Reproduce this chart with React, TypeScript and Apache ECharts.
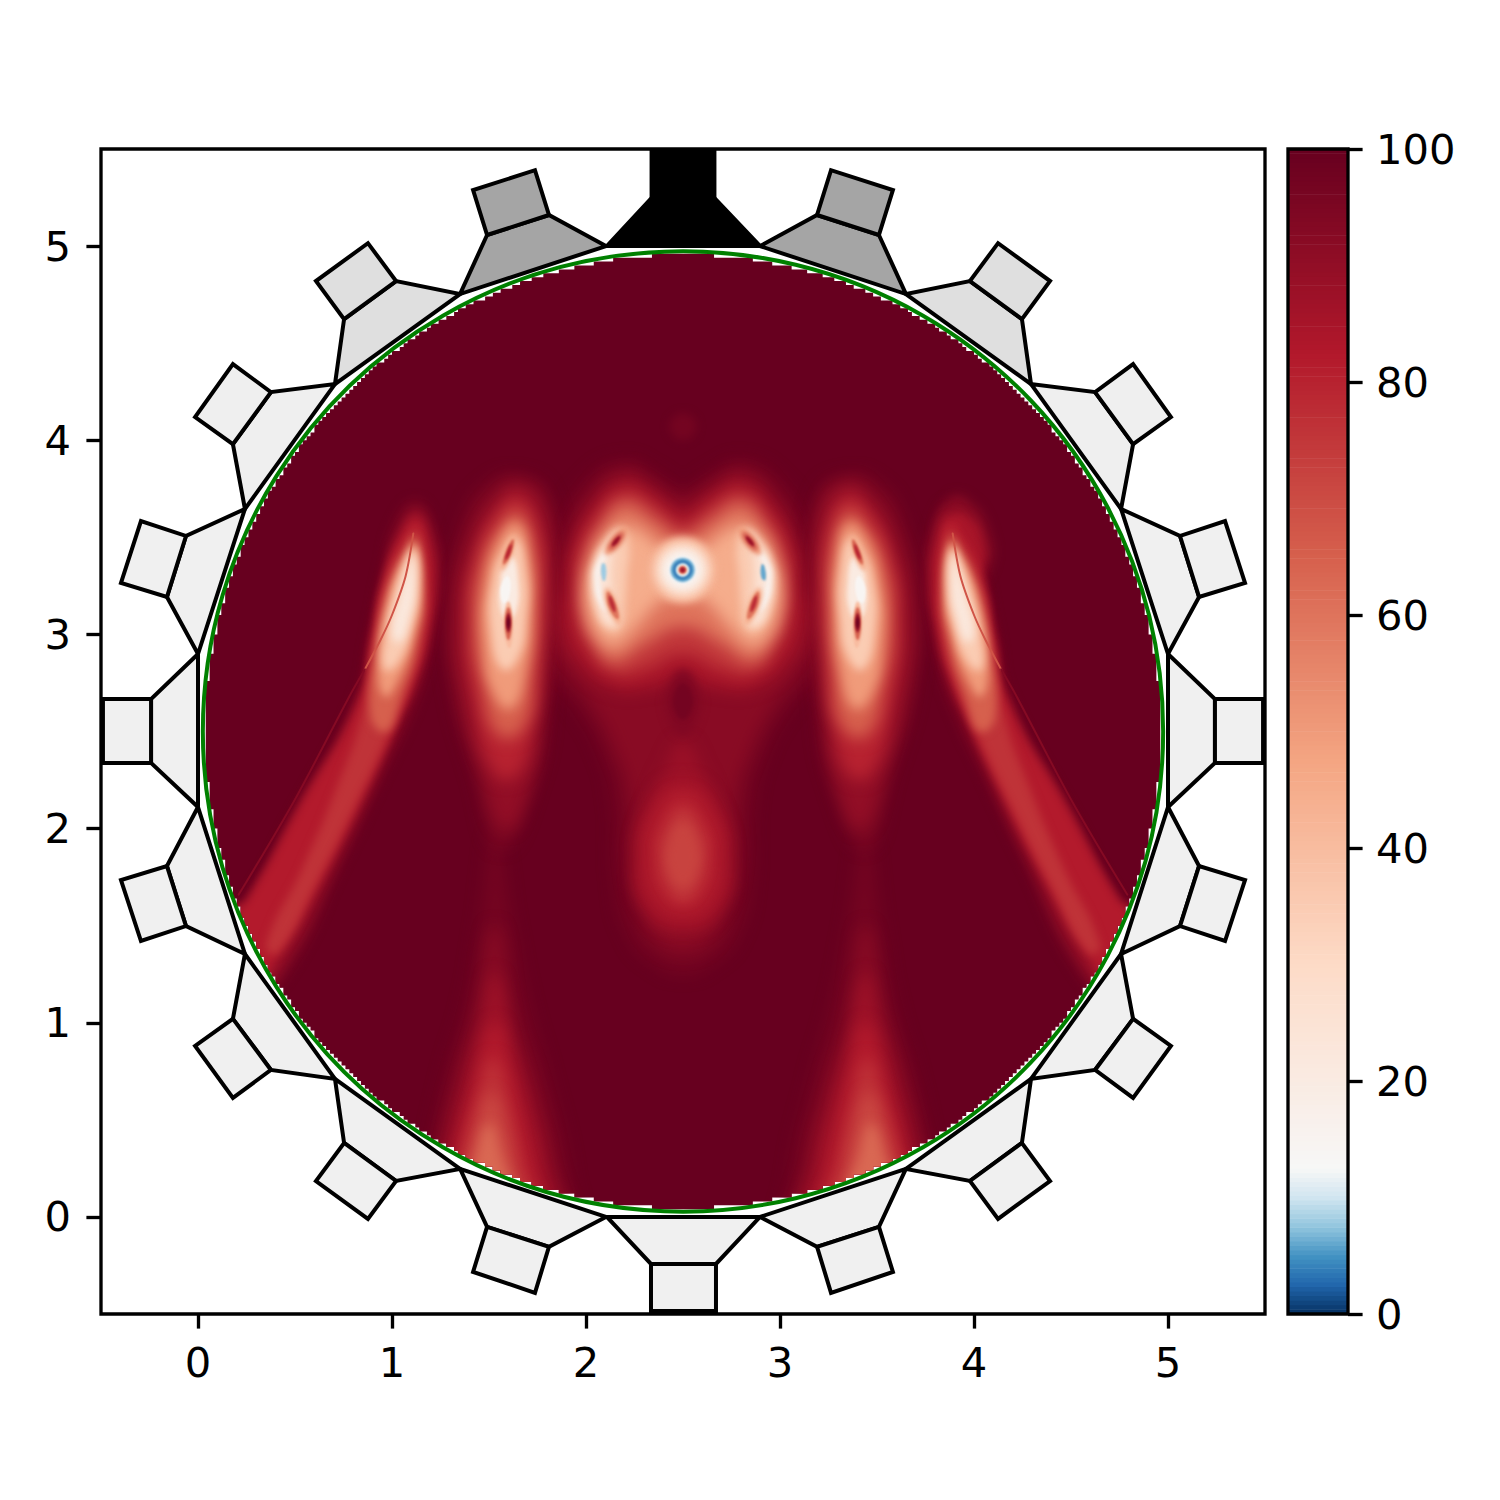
import React, { useEffect, useRef } from "react";
import * as echarts from "echarts";

type Pt = [number, number];
type Contour = [number, Pt[]];

const xTicks = [0, 1, 2, 3, 4, 5];
const yTicks = [0, 1, 2, 3, 4, 5];
const barTicks = [0, 20, 40, 60, 80, 100];
const xRange: Pt = [-0.5, 5.5];
const yRange: Pt = [-0.5, 5.5];

const cmapStops: [number, string][] = [
  [0, "#053061"], [2.5, "#2166ac"], [5, "#4393c3"], [7.5, "#92c5de"], [10, "#d1e5f0"], [12.5, "#f7f7f7"],
  [30, "#fddbc7"], [47.5, "#f4a582"], [65, "#d6604d"], [82.5, "#b2182b"], [100, "#67001f"],
];

// Ports of the vessel, right half (data coordinates): [fill, trapezoid, square]
const portsRight: [string, Pt[], Pt[]][] = [
  ["#a5a5a5", [[2.897, 5], [3.649, 4.753], [3.51, 5.057], [3.191, 5.16]], [[3.191, 5.16], [3.51, 5.057], [3.582, 5.288], [3.263, 5.391]]],
  ["#dfdfdf", [[3.649, 4.753], [4.294, 4.289], [4.247, 4.624], [3.979, 4.82]], [[3.979, 4.82], [4.247, 4.624], [4.392, 4.82], [4.124, 5.015]]],
  ["#efefef", [[4.294, 4.289], [4.758, 3.646], [4.82, 3.98], [4.624, 4.248]], [[4.624, 4.248], [4.82, 3.98], [5.015, 4.119], [4.82, 4.392]]],
  ["#f0f0f0", [[4.758, 3.646], [5, 2.899], [5.16, 3.193], [5.062, 3.507]], [[5.062, 3.507], [5.16, 3.193], [5.397, 3.265], [5.294, 3.584]]],
  ["#f0f0f0", [[5, 2.899], [5, 2.111], [5.242, 2.338], [5.242, 2.667]], [[5.242, 2.667], [5.242, 2.338], [5.49, 2.338], [5.49, 2.667]]],
  ["#f0f0f0", [[5, 2.111], [4.758, 1.354], [5.062, 1.498], [5.16, 1.807]], [[5.16, 1.807], [5.062, 1.498], [5.294, 1.421], [5.397, 1.735]]],
  ["#f0f0f0", [[4.758, 1.354], [4.294, 0.711], [4.624, 0.757], [4.82, 1.02]], [[4.82, 1.02], [4.624, 0.757], [4.82, 0.613], [5.015, 0.881]]],
  ["#f0f0f0", [[4.294, 0.711], [3.649, 0.247], [3.979, 0.185], [4.247, 0.381]], [[4.247, 0.381], [3.979, 0.185], [4.124, -0.01], [4.392, 0.185]]],
  ["#f0f0f0", [[3.649, 0.247], [2.897, 0], [3.191, -0.154], [3.51, -0.051]], [[3.51, -0.051], [3.191, -0.154], [3.263, -0.391], [3.582, -0.283]]],
];
const portBottom: [string, Pt[], Pt[]] = ["#f0f0f0", [[2.108, 0], [2.897, 0], [2.67, -0.242], [2.335, -0.242]], [[2.335, -0.242], [2.67, -0.242], [2.67, -0.484], [2.335, -0.484]]];
const portTop: [string, Pt[], Pt[]] = ["#000000", [[2.108, 5], [2.897, 5], [2.662, 5.247], [2.338, 5.247]], [[2.338, 5.247], [2.662, 5.247], [2.662, 5.6], [2.338, 5.6]]];

// Field
const tailLobeLeft: Contour[] = [
  [97, [[1.13, 3.7], [1.23, 3.57], [1.27, 3.35], [1.25, 3.1], [1.2, 2.85], [1.12, 2.6], [0.97, 2.28], [0.77, 1.85], [0.47, 1.24], [0.3, 1.15], [0.15, 1.6], [0.22, 1.62], [0.5, 2.12], [0.8, 2.68], [0.87, 3.0], [0.93, 3.3], [1.01, 3.6]]],
  [90, [[1.13, 3.65], [1.21, 3.52], [1.24, 3.3], [1.21, 3.05], [1.15, 2.8], [1.06, 2.58], [0.93, 2.28], [0.73, 1.85], [0.43, 1.26], [0.3, 1.18], [0.18, 1.6], [0.24, 1.62], [0.52, 2.12], [0.82, 2.66], [0.89, 2.98], [0.95, 3.28], [1.04, 3.56]]],
  [82, [[1.13, 3.6], [1.19, 3.46], [1.21, 3.25], [1.18, 3.0], [1.11, 2.75], [1.02, 2.54], [0.89, 2.26], [0.69, 1.85], [0.39, 1.3], [0.3, 1.2], [0.2, 1.58], [0.25, 1.62], [0.53, 2.12], [0.83, 2.66], [0.9, 2.97], [0.96, 3.28], [1.05, 3.52]]],
  [76, [[1.13, 3.54], [1.17, 3.32], [1.16, 3.0], [1.08, 2.72], [0.97, 2.46], [0.81, 2.12], [0.61, 1.72], [0.41, 1.36], [0.35, 1.4], [0.54, 1.8], [0.71, 2.2], [0.85, 2.6], [0.91, 2.98], [0.97, 3.28], [1.07, 3.48]]],
  [65, [[1.12, 3.5], [1.16, 3.25], [1.13, 2.95], [1.04, 2.66], [0.97, 2.5], [0.89, 2.58], [0.93, 2.98], [0.99, 3.25], [1.08, 3.45]]],
  [50, [[1.12, 3.47], [1.15, 3.22], [1.11, 2.98], [1.03, 2.76], [0.96, 2.68], [0.93, 2.88], [0.98, 3.18], [1.03, 3.32], [1.09, 3.43]]],
  [35, [[1.115, 3.45], [1.135, 3.25], [1.1, 3.03], [1.03, 2.85], [0.96, 2.82], [0.97, 3.02], [1.02, 3.24], [1.08, 3.4]]],
  [22, [[1.105, 3.42], [1.12, 3.25], [1.09, 3.08], [1.04, 2.96], [1.0, 3.0], [1.04, 3.2], [1.08, 3.34]]],
];
const shoulderRight: Contour[] = [
  [92, [[3.88, 3.7], [3.98, 3.68], [4.07, 3.54], [4.08, 3.35], [3.95, 3.22], [3.82, 3.45]]],
  [85, [[3.9, 3.62], [3.98, 3.6], [4.04, 3.5], [4.04, 3.35], [3.95, 3.28], [3.86, 3.45]]],
];
const middleLobeLeft: Contour[] = [
  [95, [[1.66, 3.82], [1.81, 3.72], [1.85, 3.38], [1.83, 3.0], [1.81, 2.66], [1.74, 2.25], [1.56, 1.9], [1.42, 2.3], [1.3, 2.76], [1.28, 3.18], [1.37, 3.6], [1.5, 3.78]]],
  [90, [[1.67, 3.78], [1.79, 3.64], [1.82, 3.3], [1.8, 2.95], [1.77, 2.6], [1.7, 2.2], [1.58, 2.0], [1.46, 2.3], [1.35, 2.7], [1.32, 3.1], [1.4, 3.48], [1.55, 3.73]]],
  [80, [[1.66, 3.72], [1.76, 3.55], [1.79, 3.25], [1.77, 2.9], [1.73, 2.55], [1.65, 2.28], [1.53, 2.28], [1.42, 2.65], [1.38, 3.05], [1.43, 3.42], [1.56, 3.67]]],
  [65, [[1.65, 3.64], [1.73, 3.46], [1.75, 3.15], [1.73, 2.8], [1.68, 2.52], [1.55, 2.48], [1.46, 2.75], [1.42, 3.05], [1.46, 3.38], [1.57, 3.58]]],
  [50, [[1.65, 3.57], [1.71, 3.38], [1.72, 3.1], [1.69, 2.82], [1.62, 2.62], [1.53, 2.68], [1.47, 2.95], [1.48, 3.25], [1.56, 3.5]]],
  [35, [[1.64, 3.5], [1.69, 3.32], [1.69, 3.08], [1.65, 2.88], [1.57, 2.82], [1.51, 3.02], [1.52, 3.28], [1.58, 3.44]]],
  [20, [[1.62, 3.4], [1.65, 3.27], [1.64, 3.12], [1.6, 3.08], [1.56, 3.13], [1.56, 3.27], [1.58, 3.35]]],
  [14, [[1.6, 3.3], [1.61, 3.22], [1.58, 3.16], [1.56, 3.2], [1.57, 3.27]]],
];
const crownHalves: Contour[] = [
  [97, [[2.5, 3.76], [2.35, 3.84], [2.2, 3.9], [2.0, 3.8], [1.85, 3.55], [1.78, 3.28], [1.74, 3.0], [1.8, 2.78], [1.93, 2.64], [2.07, 2.4], [2.14, 2.1], [2.15, 1.75], [2.22, 1.45], [2.36, 1.3], [2.5, 1.25]]],
  [92, [[2.5, 3.7], [2.35, 3.78], [2.2, 3.85], [2.02, 3.72], [1.9, 3.48], [1.84, 3.25], [1.8, 3.0], [1.9, 2.8], [2.02, 2.65], [2.15, 2.4], [2.22, 2.15], [2.22, 1.85], [2.27, 1.6], [2.36, 1.42], [2.5, 1.36]]],
  [88, [[2.5, 2.45], [2.4, 2.3], [2.32, 2.1], [2.26, 1.85], [2.3, 1.6], [2.5, 1.47]]],
  [85, [[2.5, 3.63], [2.35, 3.72], [2.2, 3.79], [2.04, 3.66], [1.93, 3.44], [1.9, 3.25], [1.88, 3.05], [1.97, 2.85], [2.15, 2.72], [2.3, 2.72], [2.5, 2.76]]],
  [75, [[2.5, 3.56], [2.35, 3.66], [2.2, 3.73], [2.06, 3.6], [1.97, 3.42], [1.96, 3.25], [1.97, 3.08], [2.02, 2.93], [2.15, 2.8], [2.3, 2.82], [2.5, 2.9]]],
  [60, [[2.5, 3.5], [2.36, 3.58], [2.2, 3.67], [2.08, 3.55], [2.0, 3.38], [1.98, 3.25], [1.99, 3.08], [2.04, 2.97], [2.14, 2.86], [2.3, 2.95], [2.5, 3.04]]],
  [45, [[2.5, 3.42], [2.38, 3.46], [2.22, 3.56], [2.1, 3.5], [2.03, 3.36], [2.0, 3.25], [2.01, 3.12], [2.06, 3.0], [2.14, 2.94], [2.26, 3.04], [2.38, 3.17], [2.5, 3.2]]],
];
const lowerBlobHalves: Contour[] = [
  [85, [[2.5, 2.25], [2.32, 2.1], [2.27, 1.85], [2.32, 1.6], [2.5, 1.5]]],
  [80, [[2.5, 2.18], [2.37, 2.05], [2.33, 1.85], [2.38, 1.65], [2.5, 1.58]]],
  [75, [[2.5, 2.1], [2.4, 1.98], [2.38, 1.85], [2.42, 1.7], [2.5, 1.63]]],
  [72, [[2.5, 2.03], [2.43, 1.93], [2.43, 1.78], [2.5, 1.7]]],
];
const crownSideLeft: Contour[] = [
  [35, [[2.18, 3.55], [2.22, 3.46], [2.21, 3.3], [2.2, 3.15], [2.18, 3.04], [2.12, 3.02], [2.06, 3.1], [2.03, 3.25], [2.05, 3.38], [2.11, 3.49]]],
  [25, [[2.16, 3.52], [2.14, 3.42], [2.13, 3.3], [2.14, 3.18], [2.16, 3.06], [2.1, 3.06], [2.06, 3.15], [2.035, 3.27], [2.05, 3.38], [2.1, 3.46]]],
  [16, [[2.12, 3.44], [2.08, 3.34], [2.08, 3.22], [2.11, 3.12], [2.07, 3.16], [2.045, 3.27], [2.06, 3.37]]],
];
const footBlob: Contour[] = [
  [97, [[1.53, 1.98], [1.62, 1.5], [1.7, 1.1], [1.81, 0.7], [1.92, 0.2], [1.92, -0.1], [1.1, -0.1], [1.18, 0.3], [1.28, 0.75], [1.38, 1.1], [1.45, 1.5]]],
  [92, [[1.53, 1.5], [1.63, 1.0], [1.73, 0.7], [1.83, 0.3], [1.87, -0.1], [1.16, -0.1], [1.24, 0.35], [1.34, 0.75], [1.43, 1.05]]],
  [87, [[1.53, 1.25], [1.62, 0.88], [1.7, 0.6], [1.78, 0.3], [1.82, -0.1], [1.21, -0.1], [1.28, 0.3], [1.38, 0.7], [1.46, 0.98]]],
  [82, [[1.53, 1.0], [1.62, 0.72], [1.68, 0.48], [1.74, 0.2], [1.78, -0.1], [1.25, -0.1], [1.33, 0.3], [1.41, 0.62]]],
  [76, [[1.52, 0.82], [1.6, 0.58], [1.66, 0.3], [1.72, 0.02], [1.3, 0.02], [1.37, 0.35], [1.44, 0.6]]],
  [70, [[1.51, 0.64], [1.58, 0.44], [1.63, 0.2], [1.66, 0.02], [1.34, 0.02], [1.4, 0.3], [1.45, 0.48]]],
  [63, [[1.5, 0.48], [1.56, 0.32], [1.6, 0.12], [1.4, 0.12], [1.43, 0.3]]],
];
const upperFaint: Contour[] = [
  [97, [[2.5, 4.14], [2.57, 4.07], [2.5, 4.0], [2.43, 4.07]]],
];
// Overlays painted above the contours: dark spots and the dimple
const dimple: Contour[] = [
  [94, [[2.5, 2.82], [2.58, 2.72], [2.58, 2.58], [2.5, 2.48], [2.42, 2.58], [2.42, 2.72]]],
  [97, [[2.5, 2.75], [2.55, 2.68], [2.54, 2.6], [2.5, 2.56], [2.46, 2.6], [2.45, 2.68]]],
];
const crownSpotsLeft: Contour[] = [
  [50, [[2.21, 3.55], [2.18, 3.46], [2.1, 3.41], [2.13, 3.5]]],
  [70, [[2.19, 3.525], [2.17, 3.47], [2.12, 3.435], [2.14, 3.49]]],
  [88, [[2.175, 3.505], [2.163, 3.473], [2.135, 3.455], [2.147, 3.487]]],
  [45, [[2.105, 3.24], [2.163, 3.16], [2.175, 3.05], [2.107, 3.14]]],
  [60, [[2.112, 3.22], [2.154, 3.157], [2.165, 3.08], [2.116, 3.143]]],
  [78, [[2.12, 3.2], [2.144, 3.163], [2.15, 3.115], [2.126, 3.147]]],
];
const middleSpotsLeft: Contour[] = [
  [45, [[1.63, 3.51], [1.62, 3.41], [1.565, 3.33], [1.575, 3.43]]],
  [65, [[1.625, 3.49], [1.614, 3.415], [1.575, 3.36], [1.586, 3.425]]],
  [82, [[1.615, 3.465], [1.607, 3.417], [1.585, 3.385], [1.593, 3.423]]],
  [40, [[1.6, 3.17], [1.625, 3.05], [1.605, 2.93], [1.575, 3.05]]],
  [65, [[1.6, 3.14], [1.618, 3.06], [1.6, 2.97], [1.582, 3.06]]],
  [90, [[1.6, 3.11], [1.612, 3.06], [1.6, 3.01], [1.588, 3.06]]],
  [100, [[1.6, 3.09], [1.607, 3.06], [1.6, 3.03], [1.593, 3.06]]],
];
const bluePatches: Contour[] = [
  [8, [[2.08, 3.36], [2.1, 3.36], [2.1, 3.28], [2.085, 3.28]]],
  [6, [[2.905, 3.36], [2.92, 3.35], [2.925, 3.28], [2.905, 3.29]]],
];
// Concentric bands of the central point: [radius, value]
const centreRadii = [0.17, 0.15, 0.13, 0.112, 0.095, 0.08, 0.07, 0.062, 0.048, 0.037, 0.03, 0.023, 0.017, 0.01];
const centreValues = [42, 36, 30, 24, 18, 14, 12, 6, 3, 8, 14, 45, 75, 88];
const centrePoint: Pt = [2.498, 3.332];
// Thin streaks beside the tails: [value, polyline]
const streaksLeft: [number, Pt[]][] = [
  [68, [[1.11, 3.52], [1.07, 3.3], [1.0, 3.1], [0.94, 2.97], [0.86, 2.82]]],
  [93, [[0.86, 2.82], [0.78, 2.68], [0.5, 2.15], [0.21, 1.66]]],
];
const discCentre: Pt = [2.5, 2.5];
const discRadius = 2.465;
const rimRadius = 2.475;
const cellSize = 0.02;

const mirror = (pts: Pt[], axis: number): Pt[] => pts.map(([x, y]) => [axis - x, y] as Pt);
const mirrorAll = (list: Contour[], axis: number): Contour[] => list.map(([l, p]) => [l, mirror(p, axis)] as Contour);
const closeHalf = (list: Contour[]): Contour[] =>
  list.map(([l, p]) => [l, [...p, ...mirror(p, 5).reverse().slice(1, -1)]] as Contour);

const hex = (s: string) => [1, 3, 5].map((i) => parseInt(s.slice(i, i + 2), 16));
const cmap = (v: number) => {
  for (let i = 1; i < cmapStops.length; i++) {
    if (v <= cmapStops[i][0]) {
      const [a, ca] = cmapStops[i - 1];
      const [b, cb] = cmapStops[i];
      const t = (v - a) / (b - a);
      const A = hex(ca), B = hex(cb);
      return `rgb(${A.map((c, k) => Math.round(c + (B[k] - c) * t)).join(",")})`;
    }
  }
  return "rgb(103,0,31)";
};

const tailContours: Contour[] = [...tailLobeLeft, ...mirrorAll(tailLobeLeft, 5)];
const sharpBands = new Set<Contour>(tailContours);
const contours: Contour[] = [
  ...tailContours, ...shoulderRight,
  ...middleLobeLeft, ...mirrorAll(middleLobeLeft, 5),
  ...closeHalf(crownHalves), ...closeHalf(lowerBlobHalves),
  ...crownSideLeft, ...mirrorAll(crownSideLeft, 5),
  ...footBlob, ...mirrorAll(footBlob, 4.97), ...upperFaint,
].sort((a, b) => b[0] - a[0]);
const overlays: Contour[] = [
  ...dimple, ...crownSpotsLeft, ...mirrorAll(crownSpotsLeft, 5),
  ...middleSpotsLeft, ...mirrorAll(middleSpotsLeft, 5), ...bluePatches,
];
const streaks: [number, Pt[]][] = [...streaksLeft, ...streaksLeft.map(([l, p]) => [l, mirror(p, 5)] as [number, Pt[]])];
const ports: [string, Pt[], Pt[]][] = [
  portTop, portBottom, ...portsRight,
  ...portsRight.map(([f, t, s]) => [f, mirror(t, 5), mirror(s, 5)] as [string, Pt[], Pt[]]),
];
const barLevels: number[] = [];
for (let i = 0; i < 256; i++) barLevels.push(i);

// Outline of the masked pixel grid of the disc
const discOutline = (): Pt[] => {
  const up: Pt[] = [], down: Pt[] = [];
  const n = Math.round(5 / cellSize);
  for (let k = 0; k < n; k++) {
    const c = (k + 0.5) * cellSize - discCentre[0];
    if (Math.abs(c) >= discRadius) continue;
    const h = Math.floor(Math.sqrt(discRadius * discRadius - c * c) / cellSize) * cellSize;
    up.push([k * cellSize, discCentre[1] + h], [(k + 1) * cellSize, discCentre[1] + h]);
    down.push([k * cellSize, discCentre[1] - h], [(k + 1) * cellSize, discCentre[1] - h]);
  }
  return [...up, ...down.reverse()];
};
const outline = discOutline();
const touchesRim = (pts: Pt[]) =>
  pts.some(([x, y]) => Math.hypot(x - discCentre[0], y - discCentre[1]) > discRadius - 0.12);

// softening of each band's edge, so that the bands read as a continuous field
const softness = (c: Contour) => {
  const xs = c[1].map((p) => p[0]), ys = c[1].map((p) => p[1]);
  const size = Math.min(Math.max(...xs) - Math.min(...xs), Math.max(...ys) - Math.min(...ys)) * 194;
  const blur = size * 0.13;
  const level = blur > 7 ? 8 : blur > 5 ? 6 : blur > 3 ? 4 : blur > 1.6 ? 2 : 1;
  return sharpBands.has(c) ? Math.min(level, 4) : level;
};

const axisFont = { fontFamily: "DejaVu Sans", fontSize: 41.67, color: "#000" };
const axisStroke = { color: "#000", width: 3.33 };
const poly = (api: any, pts: Pt[]) => pts.map((p) => api.coord(p));

export default function App() {
  const ref = useRef<HTMLDivElement>(null);
  useEffect(() => {
    const chart = echarts.init(ref.current!, undefined, { renderer: "svg" });
    const contourItem = (c: Contour, api: any, smooth: number) => {
      const el: any = {
        type: "polygon",
        shape: { points: poly(api, c[1]), smooth },
        style: { fill: cmap(c[0]) },
      };
      if (touchesRim(c[1])) el.clipPath = { type: "polygon", shape: { points: poly(api, outline) } };
      return el;
    };
    chart.setOption({
      animation: false,
      backgroundColor: "#fff",
      grid: [
        { left: 101, top: 149, width: 1164, height: 1165, show: false },
        { left: 1288, top: 149, width: 60, height: 1165, show: false },
      ],
      xAxis: [
        {
          type: "value", gridIndex: 0, min: xRange[0], max: xRange[1], splitLine: { show: false },
          axisLine: { show: false, onZero: false },
          axisTick: { show: true, length: 14.6, lineStyle: axisStroke, customValues: xTicks },
          axisLabel: { ...axisFont, margin: 27, customValues: xTicks },
        },
        { type: "value", gridIndex: 1, min: 0, max: 1, show: false },
      ],
      yAxis: [
        {
          type: "value", gridIndex: 0, min: yRange[0], max: yRange[1], splitLine: { show: false },
          axisLine: { show: false, onZero: false },
          axisTick: { show: true, length: 14.6, lineStyle: axisStroke, customValues: yTicks },
          axisLabel: { ...axisFont, margin: 30, customValues: yTicks },
        },
        {
          type: "value", gridIndex: 1, position: "right", min: 0, max: 100, interval: 20, splitLine: { show: false },
          axisLine: { show: false, onZero: false },
          axisTick: { show: true, length: 14.6, lineStyle: axisStroke, customValues: barTicks },
          axisLabel: { ...axisFont, margin: 28, customValues: barTicks },
        },
      ],
      series: [
        {
          type: "custom", name: "disc", xAxisIndex: 0, yAxisIndex: 0, z: 2, clip: true, silent: true,
          data: [discCentre],
          renderItem: (_p: any, api: any) => ({
            type: "polygon", shape: { points: poly(api, outline) }, style: { fill: cmap(100) },
          }),
        },
        {
          type: "custom", name: "field", xAxisIndex: 0, yAxisIndex: 0, z: 3, clip: true, silent: true,
          data: contours.map((c, i) => [i, c[0]]),
          renderItem: (p: any, api: any) => contourItem(contours[p.dataIndex], api, 0.5),
        },
        {
          type: "custom", name: "spots", xAxisIndex: 0, yAxisIndex: 0, z: 4, clip: true, silent: true,
          data: overlays.map((c, i) => [i, c[0]]),
          renderItem: (p: any, api: any) => contourItem(overlays[p.dataIndex], api, 0.5),
        },
        {
          type: "custom", name: "centre", xAxisIndex: 0, yAxisIndex: 0, z: 5, clip: true, silent: true,
          data: centreRadii.map((r, i) => [r, centreValues[i]]),
          renderItem: (p: any, api: any) => {
            const [cx, cy] = api.coord(centrePoint);
            const r = api.size([centreRadii[p.dataIndex], 0])[0];
            return { type: "circle", shape: { cx, cy, r }, style: { fill: cmap(centreValues[p.dataIndex]) } };
          },
        },
        {
          type: "custom", name: "streaks", xAxisIndex: 0, yAxisIndex: 0, z: 5, clip: true, silent: true,
          data: streaks.map((s, i) => [i, s[0]]),
          renderItem: (p: any, api: any) => {
            const s = streaks[p.dataIndex];
            return {
              type: "polyline", shape: { points: poly(api, s[1]), smooth: 0.3 },
              style: { fill: "none", stroke: cmap(s[0]), lineWidth: 2, lineCap: "round" },
            };
          },
        },
        {
          type: "custom", name: "ports", xAxisIndex: 0, yAxisIndex: 0, z: 6, clip: true, silent: true,
          data: ports.map((_, i) => [i, 0]),
          renderItem: (p: any, api: any) => {
            const [fill, trap, square] = ports[p.dataIndex];
            const style = { fill, stroke: "#000", lineWidth: 4, lineJoin: "miter" };
            return {
              type: "group",
              children: [
                { type: "polygon", shape: { points: poly(api, trap) }, style },
                { type: "polygon", shape: { points: poly(api, square) }, style },
              ],
            };
          },
        },
        {
          type: "custom", name: "rim", xAxisIndex: 0, yAxisIndex: 0, z: 7, clip: true, silent: true,
          data: [discCentre],
          renderItem: (_p: any, api: any) => {
            const [cx, cy] = api.coord(discCentre);
            const r = api.size([rimRadius, 0])[0];
            return { type: "circle", shape: { cx, cy, r }, style: { fill: "none", stroke: "#008000", lineWidth: 4 } };
          },
        },
        {
          type: "custom", name: "frame", xAxisIndex: 0, yAxisIndex: 0, z: 8, silent: true,
          data: [[xRange[0], yRange[0]]],
          renderItem: (_p: any, api: any) => {
            const a = api.coord([xRange[0], yRange[1]]);
            const b = api.coord([xRange[1], yRange[0]]);
            return {
              type: "rect", shape: { x: a[0], y: a[1], width: b[0] - a[0], height: b[1] - a[1] },
              style: { fill: "none", stroke: "#000", lineWidth: 3.33 },
            };
          },
        },
        {
          type: "custom", name: "colorbar", xAxisIndex: 1, yAxisIndex: 1, z: 9, silent: true,
          data: barLevels.map((l) => [0, l]),
          renderItem: (p: any, api: any) => {
            const l = barLevels[p.dataIndex];
            const n = barLevels.length;
            const a = api.coord([0, ((l + 1) / n) * 100]);
            const b = api.coord([1, (l / n) * 100]);
            return {
              type: "rect",
              shape: { x: a[0], y: a[1] - 0.3, width: b[0] - a[0], height: b[1] - a[1] + 0.6 },
              style: { fill: cmap(((l + 0.5) / n) * 100) },
            };
          },
        },
        {
          type: "custom", name: "colorbarFrame", xAxisIndex: 1, yAxisIndex: 1, z: 10, silent: true,
          data: [[0, 0]],
          renderItem: (_p: any, api: any) => {
            const a = api.coord([0, 100]);
            const b = api.coord([1, 0]);
            return {
              type: "rect", shape: { x: a[0], y: a[1], width: b[0] - a[0], height: b[1] - a[1] },
              style: { fill: "none", stroke: "#000", lineWidth: 3.33 },
            };
          },
        },
      ],
    });

    // Soften the field's band edges with SVG blur filters on the drawn paths.
    const svg = ref.current!.querySelector("svg");
    if (svg) {
      const NS = "http://www.w3.org/2000/svg";
      const defs = document.createElementNS(NS, "defs");
      [1, 2, 4, 6, 8].forEach((s) => {
        const f = document.createElementNS(NS, "filter");
        f.setAttribute("id", `soft${s}`);
        f.setAttribute("filterUnits", "userSpaceOnUse");
        f.setAttribute("x", "0"); f.setAttribute("y", "0");
        f.setAttribute("width", "1500"); f.setAttribute("height", "1500");
        f.setAttribute("color-interpolation-filters", "sRGB");
        const b = document.createElementNS(NS, "feGaussianBlur");
        b.setAttribute("stdDeviation", String(s));
        f.appendChild(b);
        defs.appendChild(f);
      });
      svg.appendChild(defs);
      const drawn = Array.from(svg.querySelectorAll("path")).filter(
        (p) => (p.getAttribute("fill") || "").startsWith("rgb") && !p.closest("clipPath")
      );
      const bands = [...contours, ...overlays];
      // the first rgb path is the disc; the bands follow it in paint order
      bands.forEach((c, i) => {
        const el = drawn[i + 1];
        if (el) el.setAttribute("filter", `url(#soft${softness(c)})`);
      });
      // the central point's bands follow the same rule; its outer ones are softest
      const rings = Array.from(svg.querySelectorAll("circle, path")).filter(
        (p) => (p.getAttribute("fill") || "").startsWith("rgb") && !p.closest("clipPath")
      ).slice(bands.length + 1, bands.length + 1 + centreRadii.length);
      rings.forEach((el, i) => el.setAttribute("filter", `url(#soft${i < 6 ? 4 : 1})`));
    }
    return () => chart.dispose();
  }, []);
  return <div ref={ref} style={{ position: "fixed", left: 0, top: 0, width: 1500, height: 1500 }} />;
}
